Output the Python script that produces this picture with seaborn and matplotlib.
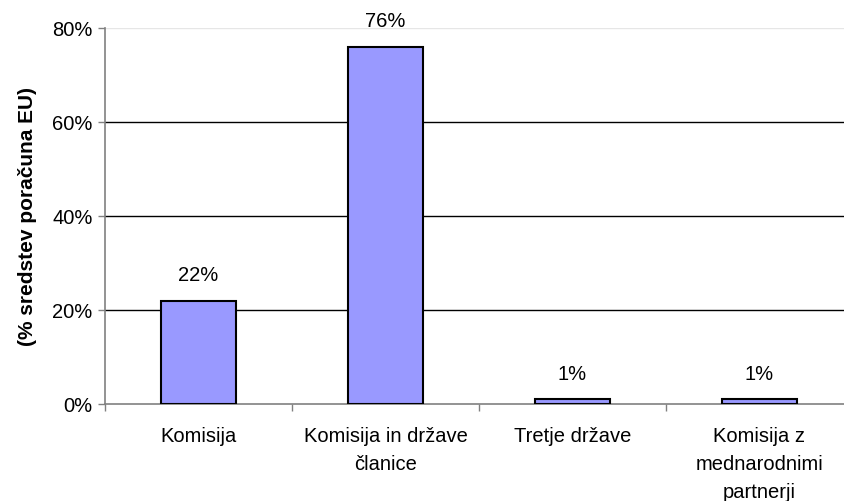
import matplotlib
matplotlib.use("Agg")
import matplotlib.pyplot as plt
import matplotlib.ticker as mticker
import numpy as np
import pandas as pd
import seaborn as sns

# data
categories = ["Komisija", "Komisija in države\nčlanice", "Tretje države",
              "Komisija z\nmednarodnimi\npartnerji"]
shares = [22, 76, 1, 1]
y_ticks = [0, 20, 40, 60, 80]
y_label = "(% sredstev poračuna EU)"

sns.set_style("white")
plt.rcParams['font.family'] = ['Liberation Sans', 'DejaVu Sans']
plt.rcParams['text.color'] = 'black'
plt.rcParams['axes.labelcolor'] = 'black'
plt.rcParams['xtick.labelcolor'] = 'black'
plt.rcParams['ytick.labelcolor'] = 'black'

df = pd.DataFrame({"cat": categories, "val": shares})

fig = plt.figure(figsize=(8.45, 5.02), dpi=100)
ax = fig.add_axes([105 / 845, 1 - 405 / 502, (853 - 105) / 845, (405 - 29) / 502])

sns.barplot(data=df, x="cat", y="val", color="#9999FF", saturation=1,
            width=0.4, edgecolor="black", linewidth=1.5, ax=ax, zorder=3)

ax.set_ylim(0, 80)
ax.set_xlim(-0.5, len(categories) - 0.5)
ax.set_yticks(y_ticks)
ax.yaxis.set_major_formatter(mticker.FuncFormatter(lambda v, p: f"{v:.0f}%"))

# horizontal gridlines, top one faint
for t in y_ticks[1:]:
    ax.axhline(t, color="black" if t < 80 else "#e6e6e6", lw=1, zorder=1)

# ticks between categories on x
ax.set_xticks(np.arange(len(categories)))
ax.set_xticklabels(categories, linespacing=1.58)
ax.set_xticks(np.arange(len(categories) + 1) - 0.5, minor=True)
ax.tick_params(axis="x", which="major", length=0, pad=16, labelsize=14.5)
ax.tick_params(axis="x", which="minor", length=5, color="#808080", width=1)
ax.tick_params(axis="y", length=5, color="#808080", width=1, labelsize=14.5, pad=4)
ax.tick_params(left=True, bottom=True, which="both")

for s in ["top", "right"]:
    ax.spines[s].set_visible(False)
for s in ["left", "bottom"]:
    ax.spines[s].set_color("#808080")
    ax.spines[s].set_linewidth(1.2)

ax.set_xlabel("")
ax.set_ylabel(y_label, fontsize=15, fontweight="bold", labelpad=11)

for i, v in enumerate(shares):
    ax.annotate(f"{v}%", (i, v), xytext=(0, 12), textcoords="offset points",
                ha="center", va="bottom", fontsize=14.5)

fig.savefig("out.png", dpi=100)
